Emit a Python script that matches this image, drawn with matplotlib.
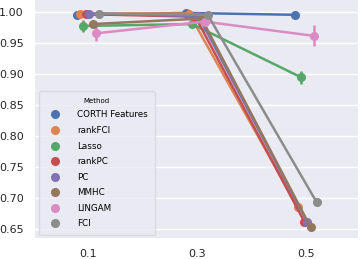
import numpy as np
import matplotlib
matplotlib.use("Agg")
import matplotlib.pyplot as plt
from matplotlib.lines import Line2D

# x categories
ratios = ["0.1", "0.3", "0.5"]
methods = ["CORTH Features", "rankFCI", "Lasso", "rankPC", "PC", "MMHC", "LINGAM", "FCI"]

# mean score per method at each ratio
corth = [0.996, 0.999, 0.996]
rankfci = [0.998, 0.998, 0.685]
lasso = [0.978, 0.981, 0.895]
rankpc = [0.997, 0.993, 0.662]
pc = [0.998, 0.994, 0.661]
mmhc = [0.981, 0.990, 0.653]
lingam = [0.966, 0.985, 0.962]
fci = [0.998, 0.996, 0.693]

# error bar half widths
corth_err = [0.001, 0.001, 0.001]
rankfci_err = [0.001, 0.001, 0.002]
lasso_err = [0.009, 0.002, 0.011]
rankpc_err = [0.001, 0.001, 0.004]
pc_err = [0.001, 0.001, 0.004]
mmhc_err = [0.002, 0.001, 0.002]
lingam_err = [0.012, 0.002, 0.017]
fci_err = [0.001, 0.001, 0.002]

means = [corth, rankfci, lasso, rankpc, pc, mmhc, lingam, fci]
errs = [corth_err, rankfci_err, lasso_err, rankpc_err, pc_err, mmhc_err, lingam_err, fci_err]
colors = ["#4C72B0", "#DD8452", "#55A868", "#C44E52", "#8172B3", "#937860", "#DA8BC3", "#8C8C8C"]

fig = plt.figure(figsize=(3.6, 2.59), dpi=100)
ax = fig.add_axes([0.097, 0.081, 0.897, 0.919])
ax.set_facecolor("#EAEAF2")
for s in ax.spines.values():
    s.set_visible(False)

x = np.arange(len(ratios))
# dodge the hue levels like seaborn does
offsets = np.linspace(0, 0.2, len(methods))
offsets -= offsets.mean()

for i in range(len(methods)):
    ax.errorbar(x + offsets[i], means[i], yerr=errs[i], color=colors[i],
                marker="o", markersize=5.5, lw=1.8, elinewidth=1.8, capsize=0)

ax.set_xticks(x)
ax.set_xticklabels(ratios)
ax.set_xlim(-0.486, 2.477)
ax.set_ylim(0.6355, 1.0199)
ax.set_yticks([0.65, 0.70, 0.75, 0.80, 0.85, 0.90, 0.95, 1.00])
ax.set_yticklabels(["%.2f" % v for v in ax.get_yticks()])
ax.tick_params(length=0, labelsize=8, colors="#262626")
ax.tick_params(axis="y", pad=8)
ax.tick_params(axis="x", pad=8)
ax.yaxis.grid(True, color="white", lw=1)
ax.set_axisbelow(True)

handles = [Line2D([], [], color=c, marker="o", linestyle="", markersize=5.5) for c in colors]
leg = ax.legend(handles, methods, title="Method", loc="lower left", fontsize=6.3,
                title_fontsize=5, frameon=True, facecolor="#EAEAF2", edgecolor="#D5D5DD",
                borderpad=0.8, labelspacing=0.75, handletextpad=1.5,
                borderaxespad=0.3, bbox_to_anchor=(0.005, 0.0))

fig.savefig("out.png", dpi=100)
